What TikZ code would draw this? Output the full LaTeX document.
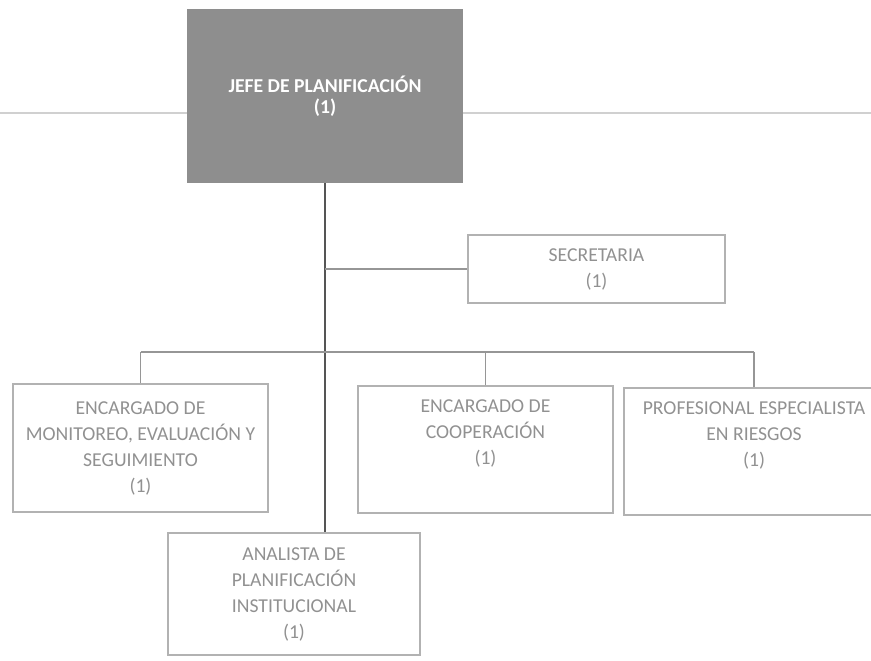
\documentclass[tikz,border=0pt]{standalone}
\usepackage{fontspec}
\setmainfont{Carlito}
\usepackage{tikz}
\definecolor{jefegray}{RGB}{142,142,142}
\definecolor{boxline}{RGB}{178,178,178}
\definecolor{boxtext}{RGB}{145,145,145}
\definecolor{trunkgray}{RGB}{85,85,85}
\definecolor{wiregray}{RGB}{150,150,150}
\definecolor{rulegray}{RGB}{208,208,208}

\begin{document}
\begin{tikzpicture}[auto]
                    \clip (0,0) rectangle (17.42,-13.2);
                    \node[rectangle,fill=jefegray,text=white,font=\fontsize{11.2}{12.2}\selectfont\bfseries,align=center,minimum width=5.52cm,minimum height=3.48cm,inner sep=0pt] (J) at (6.5,-1.92) {JEFE DE PLANIFICACIÓN\\(1)};
                    \begin{scope}[every node/.style={rectangle,draw=boxline,line width=0.6pt,text=boxtext,font=\fontsize{11.2}{14.8}\selectfont,align=center,inner sep=0pt}]
                        \node[minimum width=5.14cm,minimum height=1.36cm] (S) at (11.93,-5.38) {SECRETARIA\\(1)};
                        \node[minimum width=5.1cm,minimum height=2.56cm] (M) at (2.81,-8.96) {ENCARGADO DE\\MONITOREO, EVALUACIÓN Y\\SEGUIMIENTO\\(1)};
                        \node[minimum width=5.1cm,minimum height=2.54cm] (C) at (9.71,-8.99) {ENCARGADO DE\\COOPERACIÓN\\(1)\\\strut};
                        \node[minimum width=5.2cm,minimum height=2.54cm] (P) at (15.08,-9.03) {PROFESIONAL ESPECIALISTA\\EN RIESGOS\\(1)\\\strut};
                        \node[minimum width=5.04cm,minimum height=2.44cm] (A) at (5.88,-11.88) {ANALISTA DE\\PLANIFICACIÓN\\INSTITUCIONAL\\(1)};
                    \end{scope}
                    \coordinate (L) at (0,-2.26);
                    \coordinate (R) at (17.42,-2.26);
                    \coordinate (bus) at (0,-7.04);
                    \begin{scope}[every edge/.style={draw=wiregray,line width=0.6pt}]
                        \draw[rulegray,line width=1.2pt] (L) -- (L -| J.west);
                        \draw[rulegray,line width=1.2pt] (J.east |- R) -- (R);
                        \draw[trunkgray,line width=1.1pt] (J.south) -- (J.south |- A.north);
                        \draw (J.south |- S.west) edge (S.west);
                        \draw (M.north |- bus) edge (P.north |- bus);
                        \draw (M.north) edge (M.north |- bus);
                        \draw (C.north) edge (C.north |- bus);
                        \draw (P.north) edge (P.north |- bus);
                    \end{scope}
                \end{tikzpicture}
\end{document}
